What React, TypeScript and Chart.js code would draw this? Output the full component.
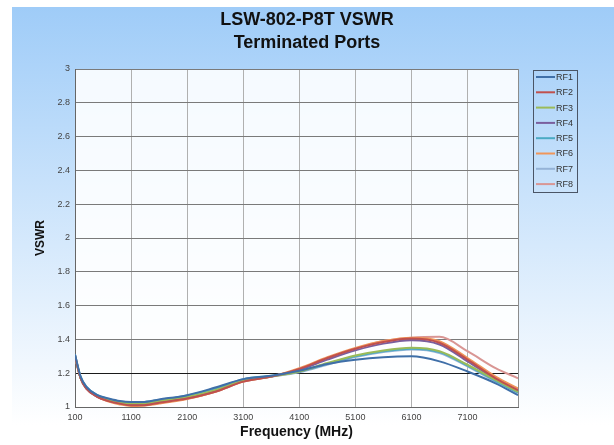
import { useEffect, useRef } from 'react';
import { Chart, registerables } from 'chart.js';

Chart.register(...registerables);

const FONT = "Arial, 'Liberation Sans', sans-serif";

const titleLines = ['LSW-802-P8T VSWR', 'Terminated Ports'];
const xAxisTitle = 'Frequency (MHz)';
const yAxisTitle = 'VSWR';

const frequencies = [100, 200, 300, 500, 700, 900, 1100, 1300, 1600, 2100, 2600, 3100, 3600, 4100, 4600, 5100, 5600, 6100, 6600, 7100, 7600, 8000];

const rf1 = [1.31, 1.18, 1.12, 1.07, 1.05, 1.035, 1.03, 1.03, 1.045, 1.07, 1.115, 1.165, 1.185, 1.215, 1.255, 1.28, 1.295, 1.3, 1.27, 1.21, 1.14, 1.07];
const rf2 = [1.3, 1.17, 1.11, 1.06, 1.035, 1.02, 1.01, 1.01, 1.025, 1.05, 1.09, 1.15, 1.18, 1.225, 1.29, 1.345, 1.385, 1.405, 1.38, 1.28, 1.17, 1.1];
const rf3 = [1.3, 1.17, 1.115, 1.065, 1.04, 1.025, 1.02, 1.02, 1.035, 1.06, 1.1, 1.155, 1.18, 1.21, 1.26, 1.305, 1.335, 1.35, 1.33, 1.25, 1.16, 1.09];
const rf4 = [1.3, 1.17, 1.11, 1.06, 1.037, 1.022, 1.015, 1.015, 1.03, 1.055, 1.095, 1.155, 1.18, 1.22, 1.28, 1.335, 1.375, 1.395, 1.37, 1.27, 1.165, 1.095];
const rf5 = [1.31, 1.18, 1.12, 1.07, 1.048, 1.033, 1.028, 1.028, 1.042, 1.068, 1.11, 1.165, 1.185, 1.21, 1.255, 1.3, 1.33, 1.345, 1.325, 1.245, 1.155, 1.085];
const rf6 = [1.3, 1.17, 1.11, 1.06, 1.032, 1.015, 1.006, 1.008, 1.02, 1.047, 1.09, 1.15, 1.18, 1.23, 1.295, 1.35, 1.39, 1.41, 1.39, 1.29, 1.18, 1.11];
const rf7 = [1.3, 1.175, 1.115, 1.065, 1.043, 1.03, 1.025, 1.025, 1.04, 1.065, 1.105, 1.16, 1.18, 1.205, 1.25, 1.295, 1.325, 1.34, 1.32, 1.24, 1.15, 1.085];
const rf8 = [1.31, 1.17, 1.11, 1.06, 1.035, 1.02, 1.012, 1.012, 1.025, 1.05, 1.09, 1.15, 1.18, 1.225, 1.29, 1.345, 1.39, 1.41, 1.415, 1.33, 1.23, 1.17];

const seriesNames = ['RF1', 'RF2', 'RF3', 'RF4', 'RF5', 'RF6', 'RF7', 'RF8'];
const seriesValues = [rf1, rf2, rf3, rf4, rf5, rf6, rf7, rf8];
const seriesColors = ['#3f6fa8', '#c0504d', '#9bbb59', '#7a5f9e', '#4aaac4', '#f0965a', '#95b3d7', '#d99694'];

const xTickValues = [100, 1100, 2100, 3100, 4100, 5100, 6100, 7100];
const xMin = 100;
const xMax = 8000;
const yMin = 1;
const yMax = 3;
const yStep = 0.2;

const backgroundPlugin = {
  id: 'bgPlugin',
  beforeDraw(chart: any) {
    const { ctx, width, height, chartArea } = chart;
    ctx.save();
    ctx.fillStyle = '#ffffff';
    ctx.fillRect(0, 0, width, height);
    const g = ctx.createLinearGradient(0, 7, 0, 425);
    g.addColorStop(0, '#9fccf8');
    g.addColorStop(1, '#ffffff');
    ctx.fillStyle = g;
    ctx.fillRect(12, 7, width - 12, height - 7);
    ctx.fillStyle = 'rgba(255,255,255,0.88)';
    ctx.fillRect(chartArea.left, chartArea.top, chartArea.right - chartArea.left, chartArea.bottom - chartArea.top);
    ctx.restore();
  },
  beforeDatasetsDraw(chart: any) {
    const { ctx, chartArea } = chart;
    ctx.save();
    ctx.strokeStyle = '#8c8c8c';
    ctx.lineWidth = 1;
    ctx.beginPath();
    ctx.moveTo(Math.round(chartArea.right) + 0.5, chartArea.top);
    ctx.lineTo(Math.round(chartArea.right) + 0.5, chartArea.bottom);
    ctx.stroke();
    ctx.restore();
  },
};

const titlePlugin = {
  id: 'centerTitle',
  afterDraw(chart: any) {
    const { ctx } = chart;
    ctx.save();
    ctx.fillStyle = '#111';
    ctx.font = `bold 18px ${FONT}`;
    ctx.textAlign = 'center';
    ctx.textBaseline = 'middle';
    titleLines.forEach((line, i) => {
      ctx.fillText(line, 307, 20 + i * 23);
    });
    ctx.restore();
  },
};

const legendPlugin = {
  id: 'boxLegend',
  afterDraw(chart: any) {
    const { ctx } = chart;
    const left = 533;
    const top = 70;
    const w = 44;
    const h = 122;
    ctx.save();
    ctx.strokeStyle = '#4a5566';
    ctx.lineWidth = 1;
    ctx.strokeRect(left + 0.5, top + 0.5, w, h);
    ctx.font = `9px ${FONT}`;
    ctx.textBaseline = 'middle';
    ctx.textAlign = 'left';
    chart.data.datasets.forEach((ds: any, i: number) => {
      const y = top + 7 + i * 15.3;
      ctx.strokeStyle = ds.borderColor;
      ctx.lineWidth = 2;
      ctx.beginPath();
      ctx.moveTo(left + 3, y);
      ctx.lineTo(left + 22, y);
      ctx.stroke();
      ctx.fillStyle = '#333';
      ctx.fillText(ds.label, left + 23, y + 0.5);
    });
    ctx.restore();
  },
};

export default function App() {
  const canvasRef = useRef<HTMLCanvasElement | null>(null);

  useEffect(() => {
    if (!canvasRef.current) return;
    const datasets = seriesNames.map((name, i) => ({
      label: name,
      data: frequencies.map((f, j) => ({ x: f, y: seriesValues[i][j] })),
      borderColor: seriesColors[i],
      backgroundColor: seriesColors[i],
      borderWidth: 2,
      pointRadius: 0,
      fill: false,
      cubicInterpolationMode: 'monotone' as const,
    }));

    const chart = new Chart(canvasRef.current, {
      type: 'line',
      data: { datasets },
      plugins: [backgroundPlugin, titlePlugin, legendPlugin],
      options: {
        responsive: false,
        animation: false,
        layout: { padding: { left: 0, right: 96, top: 69, bottom: 0 } },
        plugins: {
          legend: { display: false },
          tooltip: { enabled: false },
          title: { display: false },
        },
        scales: {
          x: {
            type: 'linear',
            min: xMin,
            max: xMax,
            afterBuildTicks: (s: any) => {
              s.ticks = xTickValues.map((v) => ({ value: v }));
            },
            afterFit: (s: any) => {
              s.height = 38;
            },
            grid: { color: '#b0b0b0', lineWidth: 1, drawTicks: false },
            border: { color: '#666', width: 1 },
            ticks: {
              font: { family: FONT, size: 9 },
              color: '#444',
              padding: 5,
              maxRotation: 0,
              autoSkip: false,
              callback: (v: any) => String(v),
            },
            title: {
              display: true,
              text: xAxisTitle,
              color: '#111',
              font: { family: FONT, size: 14, weight: 'bold' },
              padding: { top: 0, bottom: 4 },
            },
          },
          y: {
            type: 'linear',
            min: yMin,
            max: yMax,
            afterFit: (s: any) => {
              s.width = 75;
            },
            grid: {
              drawTicks: false,
              lineWidth: 1,
              color: (c: any) => (c.tick && Math.abs(c.tick.value - 1.2) < 1e-6 ? '#1a1a1a' : '#7a7a7a'),
            },
            border: { color: '#666', width: 1 },
            ticks: {
              stepSize: yStep,
              font: { family: FONT, size: 9 },
              color: '#444',
              padding: 5,
              callback: (v: any) => String(Number(Number(v).toFixed(1))),
            },
            title: {
              display: true,
              text: yAxisTitle,
              color: '#111',
              font: { family: FONT, size: 12, weight: 'bold' },
              padding: { top: 33, bottom: 0 },
            },
          },
        },
      } as any,
    });
    return () => chart.destroy();
  }, []);

  return (
    <div style={{ position: 'absolute', left: 0, top: 0, width: 614, height: 445 }}>
      <canvas ref={canvasRef} width={614} height={445} style={{ display: 'block', width: 614, height: 445 }} />
    </div>
  );
}
